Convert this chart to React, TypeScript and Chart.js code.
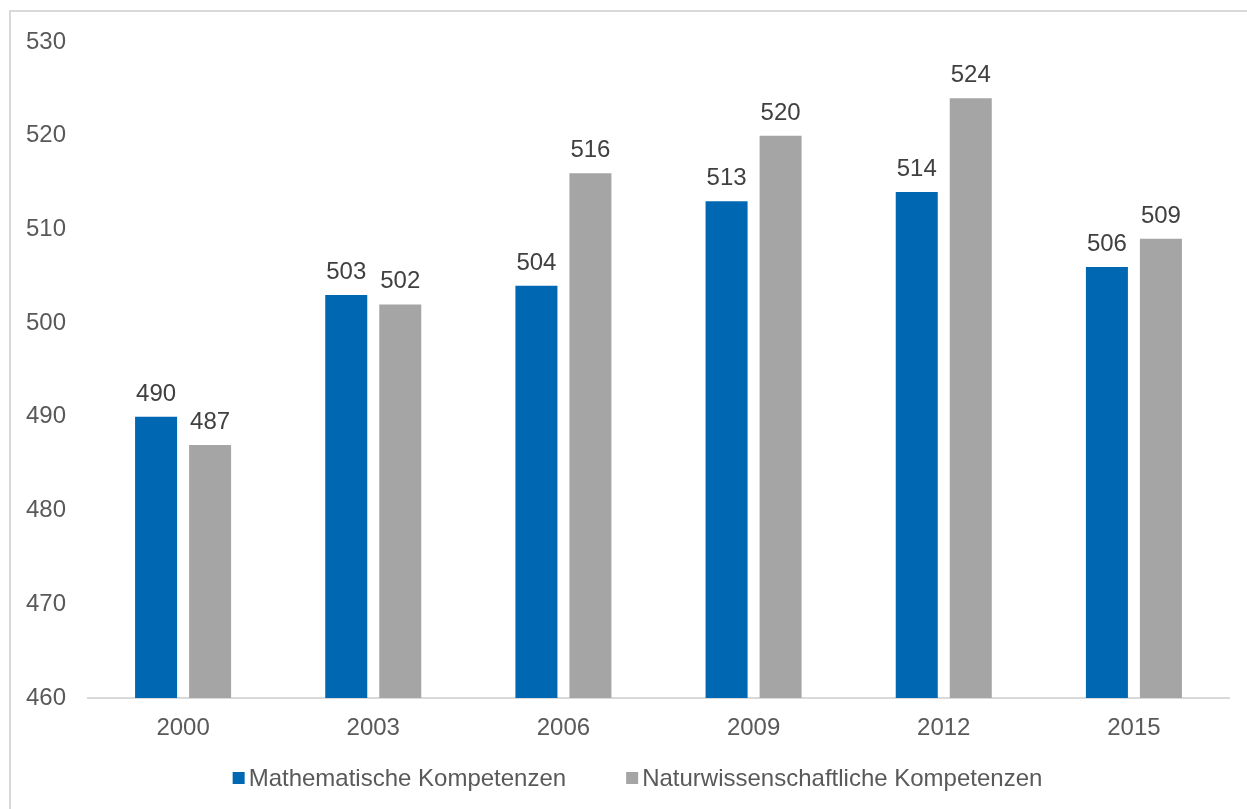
import React, { useEffect, useRef } from "react";
import { Chart, registerables } from "chart.js";

Chart.register(...registerables);

const categories = ["2000", "2003", "2006", "2009", "2012", "2015"];
const mathValues = [490, 503, 504, 513, 514, 506];
const scienceValues = [487, 502, 516, 520, 524, 509];
const seriesLabels = ["Mathematische Kompetenzen", "Naturwissenschaftliche Kompetenzen"];
const yMin = 460;
const yMax = 530;
const yStep = 10;

const FONT = "'Liberation Sans', Arial, Helvetica, sans-serif";
const FONT_SIZE = 24;
const BLUE = "#0068b3";
const GRAY = "#a5a5a5";
const TICK_COLOR = "#595959";
const LABEL_COLOR = "#404040";

const dataLabelPlugin = {
  id: "dataLabels",
  afterDatasetsDraw(chart: any) {
    const ctx = chart.ctx;
    ctx.save();
    ctx.font = `${FONT_SIZE}px ${FONT}`;
    ctx.fillStyle = LABEL_COLOR;
    ctx.textAlign = "center";
    ctx.textBaseline = "alphabetic";
    chart.data.datasets.forEach((ds: any, di: number) => {
      const meta = chart.getDatasetMeta(di);
      meta.data.forEach((bar: any, i: number) => {
        ctx.fillText(String(ds.data[i]), bar.x, bar.y - 16);
      });
    });
    ctx.restore();
  },
};

const customLegendPlugin = {
  id: "customLegend",
  afterDraw(chart: any) {
    const ctx = chart.ctx;
    ctx.save();
    ctx.font = `${FONT_SIZE}px ${FONT}`;
    ctx.textBaseline = "middle";
    ctx.textAlign = "left";
    const box = 12;
    const boxGap = 4;
    const itemGap = 60;
    const centerY = 778;
    const centerX = 637.5;
    const items = chart.data.datasets.map((ds: any) => ({
      text: ds.label,
      color: ds.backgroundColor,
      w: ctx.measureText(ds.label).width,
    }));
    let total = 0;
    items.forEach((it: any, i: number) => {
      total += box + boxGap + it.w + (i < items.length - 1 ? itemGap : 0);
    });
    let x = centerX - total / 2;
    items.forEach((it: any) => {
      ctx.fillStyle = it.color;
      ctx.fillRect(x, centerY - box / 2, box, box);
      ctx.fillStyle = TICK_COLOR;
      ctx.fillText(it.text, x + box + boxGap, centerY + 1);
      x += box + boxGap + it.w + itemGap;
    });
    ctx.restore();
  },
};

export default function App() {
  const canvasRef = useRef<HTMLCanvasElement | null>(null);

  useEffect(() => {
    if (!canvasRef.current) return;
    const chart = new Chart(canvasRef.current, {
      type: "bar",
      data: {
        labels: categories,
        datasets: [
          {
            label: seriesLabels[0],
            data: mathValues,
            backgroundColor: BLUE,
            categoryPercentage: 0.568,
            barPercentage: 0.778,
          },
          {
            label: seriesLabels[1],
            data: scienceValues,
            backgroundColor: GRAY,
            categoryPercentage: 0.568,
            barPercentage: 0.778,
          },
        ],
      },
      options: {
        animation: false,
        responsive: false,
        devicePixelRatio: 1,
        layout: { padding: { top: 42, left: 0, right: 18, bottom: 51 } },
        plugins: {
          legend: { display: false },
          tooltip: { enabled: false },
          title: { display: false },
        },
        scales: {
          x: {
            grid: { display: false, drawTicks: false, tickLength: 0 },
            border: { display: true, color: "#d9d9d9", width: 2 },
            ticks: {
              color: TICK_COLOR,
              font: { family: FONT, size: FONT_SIZE },
              padding: 16,
              maxRotation: 0,
            },
            afterFit(scale: any) {
              scale.height = 60;
            },
          },
          y: {
            min: yMin,
            max: yMax,
            grid: { display: false, drawTicks: false, tickLength: 0 },
            border: { display: false },
            ticks: {
              stepSize: yStep,
              color: TICK_COLOR,
              font: { family: FONT, size: FONT_SIZE },
              padding: 22,
            },
            afterFit(scale: any) {
              scale.width = 88;
            },
          },
        },
      },
      plugins: [dataLabelPlugin, customLegendPlugin],
    });
    return () => chart.destroy();
  }, []);

  return (
    <div
      style={{
        position: "fixed",
        left: 0,
        top: 0,
        width: 1247,
        height: 809,
        overflow: "hidden",
        background: "#ffffff",
      }}
    >
      <div
        style={{
          position: "absolute",
          left: 9,
          top: 10,
          width: 1400,
          height: 1000,
          borderTop: "2px solid #d9d9d9",
          borderLeft: "2px solid #d9d9d9",
        }}
      />
      <canvas
        ref={canvasRef}
        width={1247}
        height={809}
        style={{ position: "absolute", left: 0, top: 0, width: 1247, height: 809 }}
      />
    </div>
  );
}
